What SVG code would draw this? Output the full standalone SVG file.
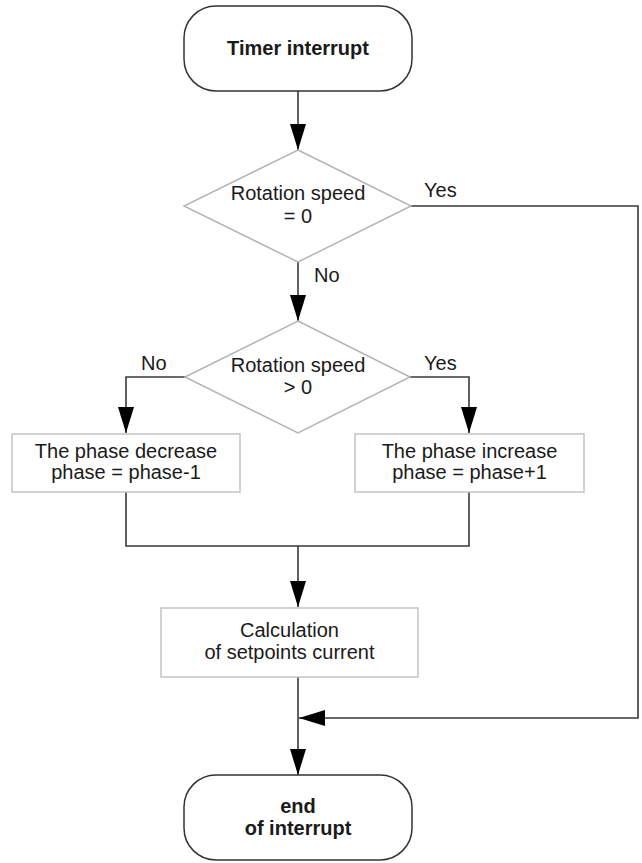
<svg xmlns="http://www.w3.org/2000/svg" width="642" height="863" viewBox="0 0 642 863">
  <style>
    .term { fill: #ffffff; stroke: #333333; stroke-width: 1.5; }
    .proc { fill: #ffffff; stroke: #c4c4c4; stroke-width: 1.5; }
    .dec { fill: #ffffff; stroke: #b4b4b4; stroke-width: 1.5; }
    .t { font-family: "Liberation Sans", Arial, sans-serif; font-size: 20px; fill: #1a1a1a; text-anchor: middle; }
    .b { font-weight: bold; }
    .lbl { font-family: "Liberation Sans", Arial, sans-serif; font-size: 20px; fill: #1a1a1a; }
    .wire { fill: none; stroke: #3a3a3a; stroke-width: 1.6; }
  </style>
  <defs>
    <marker id="arrow" viewBox="0 0 26 16" refX="26" refY="8" markerWidth="26" markerHeight="16" markerUnits="userSpaceOnUse" orient="auto">
      <path d="M0,0 L26,8 L0,16 Z" fill="#000000"/>
    </marker>
  </defs>
  <rect width="642" height="863" fill="#ffffff"/>

  <g id="connectors">
    <path class="wire" d="M298,91 V150" marker-end="url(#arrow)"/>
    <path class="wire" d="M411,206 H638 V718 H299" marker-end="url(#arrow)"/>
    <path class="wire" d="M298,262 V321" marker-end="url(#arrow)"/>
    <path class="wire" d="M185,377 H126 V433" marker-end="url(#arrow)"/>
    <path class="wire" d="M410,377 H469 V433" marker-end="url(#arrow)"/>
    <path class="wire" d="M126,492 V546 H469 V492"/>
    <path class="wire" d="M298,546 V607" marker-end="url(#arrow)"/>
    <path class="wire" d="M298,677 V775" marker-end="url(#arrow)"/>
    <text class="lbl" x="424" y="197">Yes</text>
    <text class="lbl" x="314" y="282">No</text>
    <text class="lbl" x="141" y="370">No</text>
    <text class="lbl" x="424" y="370">Yes</text>
  </g>

  <g id="start">
    <rect class="term" x="184" y="6" width="228" height="85" rx="32" ry="32"/>
    <text class="t b" x="298" y="55">Timer interrupt</text>
  </g>

  <g id="check-zero">
    <polygon class="dec" points="298,150 411,206 298,262 184,206"/>
    <text class="t" x="298" y="200">Rotation speed</text>
    <text class="t" x="298" y="223">= 0</text>
  </g>

  <g id="check-positive">
    <polygon class="dec" points="298,321 410,377 298,433 185,377"/>
    <text class="t" x="298" y="372">Rotation speed</text>
    <text class="t" x="298" y="394">&gt; 0</text>
  </g>

  <g id="phase-decrease">
    <rect class="proc" x="12" y="434" width="228" height="58"/>
    <text class="t" x="126" y="458">The phase decrease</text>
    <text class="t" x="126" y="479">phase = phase-1</text>
  </g>

  <g id="phase-increase">
    <rect class="proc" x="355" y="434" width="229" height="58"/>
    <text class="t" x="469.5" y="458">The phase increase</text>
    <text class="t" x="469.5" y="479">phase = phase+1</text>
  </g>

  <g id="setpoints">
    <rect class="proc" x="161" y="608" width="257" height="69"/>
    <text class="t" x="289.5" y="637">Calculation</text>
    <text class="t" x="289.5" y="659">of setpoints current</text>
  </g>

  <g id="end">
    <rect class="term" x="184" y="775" width="228" height="85" rx="32" ry="32"/>
    <text class="t b" x="298" y="813">end</text>
    <text class="t b" x="298" y="835">of interrupt</text>
  </g>
</svg>
